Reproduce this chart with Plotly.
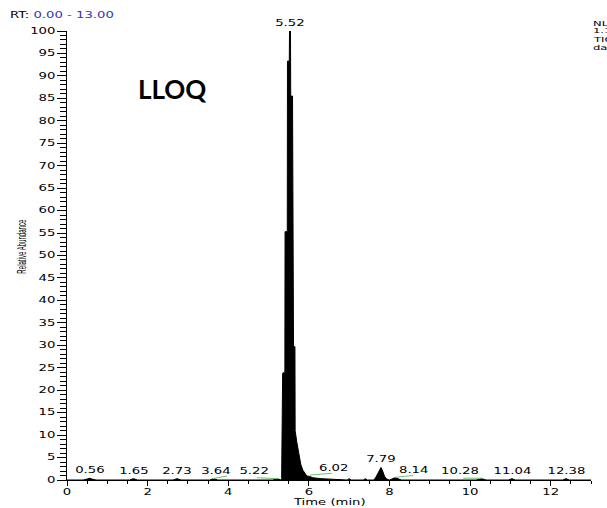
import plotly.graph_objects as go

# Chromatogram trace: retention time (min) vs relative abundance (%)
rt_min = [
    0.00, 0.40, 0.50, 0.56, 0.62, 0.72, 1.55, 1.65, 1.75, 2.63, 2.73, 2.83,
    3.54, 3.64, 3.74, 5.10, 5.22, 5.30, 5.325, 5.33, 5.345, 5.35, 5.405,
    5.41, 5.465, 5.47, 5.515, 5.52, 5.545, 5.55, 5.595, 5.60, 5.615, 5.62,
    5.655, 5.66, 5.70, 5.75, 5.80, 5.85, 5.90, 5.95, 6.02, 6.10, 6.30, 6.60,
    6.95, 7.00, 7.05, 7.35, 7.40, 7.45, 7.60, 7.65, 7.70, 7.75, 7.79, 7.83,
    7.88, 7.93, 8.00, 8.14, 8.30, 10.15, 10.28, 10.40, 10.95, 11.04, 11.12,
    12.30, 12.38, 12.46, 13.00,
]
abundance = [
    0.0, 0.0, 0.2, 0.4, 0.2, 0.0, 0.0, 0.3, 0.0, 0.0, 0.3, 0.0,
    0.0, 0.3, 0.0, 0.0, 0.3, 0.0, 0.3, 6.3, 6.3, 23.8, 24.0,
    55.3, 55.3, 93.3, 93.3, 100.0, 100.0, 85.5, 85.5, 50.6, 50.6, 29.7,
    29.7, 11.0, 8.5, 5.5, 3.5, 2.2, 1.4, 0.9, 0.8, 0.5, 0.3, 0.1,
    0.0, 0.3, 0.0, 0.0, 0.3, 0.0, 0.0, 0.4, 1.2, 2.2, 2.8, 2.0,
    0.8, 0.2, 0.0, 0.5, 0.0, 0.0, 0.3, 0.0, 0.0, 0.3, 0.0,
    0.0, 0.3, 0.0, 0.0,
]

# Labelled peaks (apex retention time, apex abundance)
peak_rt = [0.56, 1.65, 2.73, 3.64, 5.22, 5.52, 6.02, 7.79, 8.14, 10.28, 11.04, 12.38]
peak_height = [0.4, 0.3, 0.3, 0.3, 0.3, 100.0, 0.8, 2.8, 0.5, 0.3, 0.3, 0.3]

# Integration baselines (start rt, start level, end rt, end level)
base_start_rt = [3.62, 4.71, 6.03, 8.14, 9.83]
base_start_y = [0.3, 0.5, 1.1, 0.6, 0.4]
base_end_rt = [3.97, 5.24, 6.57, 8.59, 10.30]
base_end_y = [0.9, 0.3, 1.5, 1.0, 0.4]

# Header lines at the top right
header_lines = ["NL:", "1.19E4", "TIC F: + c ESI SRM ms2", "data"]

# Label placement relative to each apex
label_anchor = ["center", "center", "center", "center", "right", "center",
                "left", "center", "left", "right", "center", "center"]
label_xshift = [0, 0, 0, 2, -6, 0, 7, 0, 2, 0, 0, 0]

W, H = 607, 508
ML, MR, MT, MB = 67, 16, 31, 28
PW, PH = W - ML - MR, H - MT - MB


def px(xp):
    return (xp - ML) / PW


def py(yp):
    return (H - MB - yp) / PH


SMALL_FONT = dict(family="DejaVu Sans", size=8, color="black")

fig = go.Figure()

fig.add_trace(go.Scatter(
    x=rt_min, y=abundance, mode="lines",
    line=dict(color="black", width=1),
    fill="tozeroy", fillcolor="black",
    hoverinfo="skip", showlegend=False,
))

bx, by = [], []
for x0, y0, x1, y1 in zip(base_start_rt, base_start_y, base_end_rt, base_end_y):
    bx += [x0, x1, None]
    by += [y0, y1, None]
fig.add_trace(go.Scatter(
    x=bx, y=by, mode="lines",
    line=dict(color="#6cc46c", width=1),
    hoverinfo="skip", showlegend=False,
))

annotations = []
for rt, h, anc, xs in zip(peak_rt, peak_height, label_anchor, label_xshift):
    annotations.append(dict(
        x=rt, y=h, xref="x", yref="y", text=f"{rt:.2f}",
        showarrow=False, xanchor=anc, align=anc, yanchor="bottom",
        xshift=xs, yshift=1, font=SMALL_FONT,
    ))

annotations += [
    dict(x=px(8), y=py(15.5), xref="paper", yref="paper",
         text="RT: <span style='color:#3535b5'>0.00 - 13.00</span>",
         showarrow=False, xanchor="left", align="left", yanchor="middle",
         font=SMALL_FONT),
    dict(x=px(172), y=py(89), xref="paper", yref="paper", text="<b>LLOQ</b>",
         showarrow=False, xanchor="center", yanchor="middle",
         font=dict(family="Lato", size=26, color="black")),
    dict(x=px(22), y=py(247), xref="paper", yref="paper",
         text="Relative Abundance", textangle=-90,
         showarrow=False, xanchor="center", yanchor="middle",
         font=dict(family="Liberation Sans", size=12, color="black")),
    dict(x=px(329), y=py(502), xref="paper", yref="paper",
         text="Time (min)", showarrow=False,
         xanchor="center", yanchor="middle", font=SMALL_FONT),
]
for i, line in enumerate(header_lines):
    annotations.append(dict(
        x=px(591), y=py(23.5 + 8 * i), xref="paper", yref="paper",
        text=line, showarrow=False, xanchor="left", align="left",
        yanchor="middle", font=dict(family="DejaVu Sans", size=7, color="black"),
    ))

fig.update_layout(
    width=W, height=H,
    margin=dict(l=ML, r=MR, t=MT, b=MB, pad=0),
    paper_bgcolor="white", plot_bgcolor="white",
    showlegend=False,
    annotations=annotations,
    xaxis=dict(
        range=[0, 13], tick0=0, dtick=2, showgrid=False, zeroline=False,
        showline=True, linecolor="black", linewidth=1,
        ticks="outside", ticklen=5, tickcolor="black", tickwidth=1,
        tickfont=SMALL_FONT, ticklabelstandoff=-1,
        minor=dict(tick0=0, dtick=0.5, ticks="outside", ticklen=3,
                   tickcolor="black", showgrid=False),
        automargin=False, fixedrange=True,
    ),
    yaxis=dict(
        range=[0, 100], tick0=0, dtick=5, showgrid=False, zeroline=False,
        showline=True, linecolor="black", linewidth=1,
        ticks="outside", ticklen=9, tickcolor="black", tickwidth=1,
        tickfont=SMALL_FONT,
        minor=dict(tick0=0, dtick=1, ticks="outside", ticklen=6,
                   tickcolor="black", showgrid=False),
        automargin=False, fixedrange=True,
    ),
)

# Widen the instrument-style labels horizontally (wide, low lettering);
# the axis title is condensed to a fixed length instead.
widen_text = """
var gd = document.getElementById('{plot_id}');
gd.querySelectorAll('.xtick text, .ytick text, .annotation-text').forEach(function (t) {
    var s = t.textContent;
    if (s === 'LLOQ') { return; }
    var len = t.getComputedTextLength();
    var target = (s === 'Relative Abundance') ? 54 : len * 1.65;
    t.setAttribute('textLength', target.toFixed(2));
    t.setAttribute('lengthAdjust', 'spacingAndGlyphs');
});
"""

fig.write_html("out.html", post_script=widen_text)
